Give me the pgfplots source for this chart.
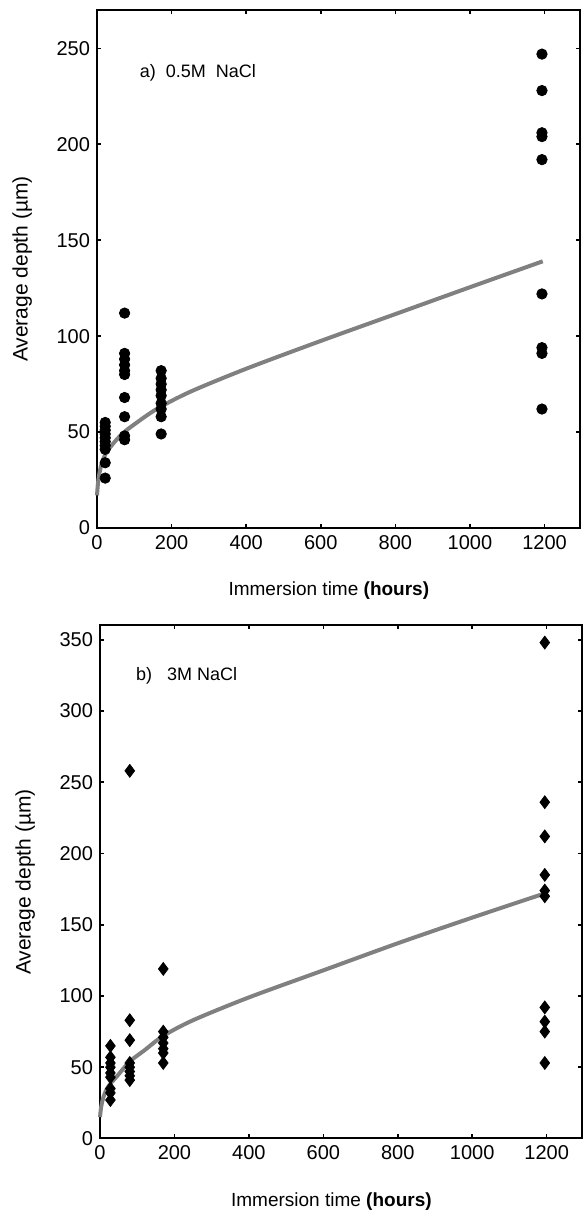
\documentclass[border=0pt]{standalone}
\usepackage{fontspec}
\setmainfont{Liberation Sans}
\usepackage{pgfplots}
\pgfplotsset{compat=1.18}

\definecolor{fitgray}{RGB}{128,128,128}

\pgfplotsset{
  depthax/.style={
    scale only axis,
    anchor=south west,
    xmin=0, xmax=1295,
    xtick={0,200,400,600,800,1000,1200},
    axis line style={line width=1pt},
    major tick length=2pt,
    every tick/.style={black, line width=0.8pt},
    tick align=inside,
    /pgf/number format/assume math mode=true,
    /pgf/number format/1000 sep={},
    tick label style={font=\fontsize{10}{12}\selectfont},
    label style={font=\fontsize{9.5}{12}\selectfont},
    xlabel={Immersion time \textbf{(hours)}},
    ylabel={Average depth (µm)},
    ylabel style={at={(axis description cs:-0.155,0.5)}, anchor=center,
                  font=\fontsize{10.5}{12}\selectfont},
    clip=false,
  },
  fitline/.style={fitgray, line width=2pt, smooth, tension=0.5, no markers},
}

\begin{document}
\begin{tikzpicture}
\useasboundingbox (0,0) rectangle (291.5pt,607pt);

% a) 0.5M NaCl
\begin{axis}[depthax,
    at={(48.5pt,343pt)}, width=241.5pt, height=259pt,
    ymin=0, ymax=270,
    ytick={0,50,100,150,200,250},
    xlabel style={at={(axis description cs:0.48,-0.12)}, anchor=center},
]
\addplot[fitline] coordinates {
  (0,17)(3,24)(8,30)(15,35)(24,39)(35,42)(50,45.5)(70,49.5)(100,54)
  (160,62)(250,71)(400,83)(600,97.5)(800,111.5)(1000,125.5)(1195,139)
};
\addplot[only marks, mark=*, mark size=2.6pt, black] coordinates {
  (22,55)(22,53)(22,51)(22,49)(22,47)(22,45)(22,43)(22,41)(22,34)(22,26)
  (74,112)(74,91)(74,88)(74,85)(74,82)(74,80)(74,68)(74,58)(74,48)(74,46)
  (172,82)(172,78)(172,75)(172,72)(172,69)(172,65)(172,62)(172,58)(172,49)
  (1193,247)(1193,228)(1193,206)(1193,204)(1193,192)(1193,122)(1193,94)(1193,91)(1193,62)
};
\node[anchor=west, font=\fontsize{9}{11}\selectfont] at (axis cs:96,237) {a)\ \ 0.5M\ \ NaCl};
\end{axis}

% b) 3M NaCl
\begin{axis}[depthax,
    at={(50pt,37.75pt)}, width=241pt, height=256.5pt,
    ymin=0, ymax=360,
    ytick={0,50,100,150,200,250,300,350},
    xlabel style={at={(axis description cs:0.48,-0.123)}, anchor=center},
]
\addplot[fitline] coordinates {
  (0,15)(3,22)(8,28)(15,33)(25,37.5)(45,43.5)(80,54)(120,62)(170,72)
  (250,83)(400,99)(600,118)(800,137)(1000,155)(1195,172)
};
\addplot[only marks, mark=diamond*, mark size=3.2pt, black] coordinates {
  (28,65)(28,57)(28,53)(28,50)(28,46)(28,43)(28,35)(28,32)(28,27)
  (80,258)(80,83)(80,69)(80,53)(80,50)(80,47)(80,44)(80,41)
  (170,119)(170,75)(170,71)(170,67)(170,63)(170,60)(170,53)
  (1195,348)(1195,236)(1195,212)(1195,185)(1195,174)(1195,170)(1195,92)(1195,82)(1195,75)(1195,53)
};
\node[anchor=west, font=\fontsize{9}{11}\selectfont] at (axis cs:78,325) {b)\ \ \ 3M NaCl};
\end{axis}
\end{tikzpicture}
\end{document}
